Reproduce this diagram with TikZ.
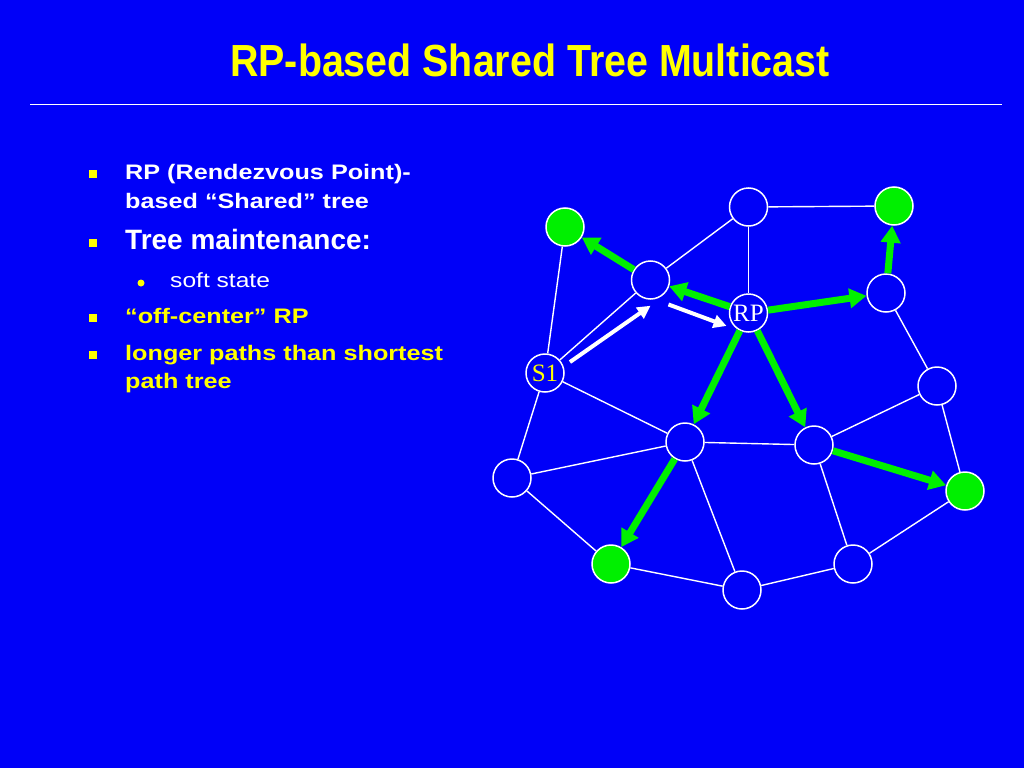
\documentclass[tikz,border=0pt]{standalone}
\usepackage{fontspec}
\setmainfont{Liberation Sans}
\newfontfamily\bodyfont{Liberation Sans}[FakeStretch=1.2]
\newfontfamily\titlefont{Liberation Sans}[FakeStretch=0.875]
\newfontfamily\labelfont{Liberation Serif}
\usetikzlibrary{arrows.meta}
\definecolor{bg}{RGB}{0,0,248}
\definecolor{yel}{RGB}{255,255,0}
\definecolor{grn}{RGB}{0,240,0}
\tikzset{
  net/.style={circle,draw=white,line width=1.5pt,minimum size=38pt,inner sep=0pt,fill=bg},
  recv/.style={net,fill=grn},
  link/.style={draw=white,line width=1.4pt},
  tree/.style={draw=grn,line width=7pt,-{Triangle[length=17pt,width=19pt]}},
  srcpath/.style={draw=white,line width=4pt,-{Triangle[length=13pt,width=13pt]}},
  sq/.style={fill=yel,minimum size=8.5pt,inner sep=0pt},
  txt/.style={anchor=base west,inner sep=0pt}
}
\begin{document}
\begin{tikzpicture}[x=1pt,y=-1pt]
\fill[bg] (0,0) rectangle (1024,768);
\useasboundingbox (0,0) rectangle (1024,768);
% title
\node[anchor=base,inner sep=0pt,text=yel] (title) at (530,77)
  {\titlefont\fontsize{45}{50}\selectfont\bfseries RP-based Shared Tree Multicast};
\coordinate (rl) at (30,104);
\coordinate (rr) at (1002,104);
\draw[white,line width=1pt] (rl) -- (rr);
% bullets
\node[sq] (b1) at (93,174) {};
\node[sq] (b2) at (93,243) {};
\node[sq] (b3) at (93,318) {};
\node[sq] (b4) at (93,355) {};
\node[circle,fill=yel,minimum size=7pt,inner sep=0pt] (b5) at (141,283) {};
\node[txt,text=white] (t1) at (125,179) {\bodyfont\fontsize{21}{25}\selectfont\bfseries RP (Rendezvous Point)-};
\node[txt,text=white] (t2) at (125,208) {\bodyfont\fontsize{21}{25}\selectfont\bfseries based “Shared” tree};
\node[txt,text=white] (t3) at (125,249) {\fontsize{28}{32}\selectfont\bfseries Tree maintenance:};
\node[txt,text=white] (t4) at (170,287) {\bodyfont\fontsize{20.5}{25}\selectfont soft state};
\node[txt,text=yel] (t5) at (125,323) {\bodyfont\fontsize{21}{25}\selectfont\bfseries “off-center” RP};
\node[txt,text=yel] (t6) at (125,360) {\bodyfont\fontsize{21}{25}\selectfont\bfseries longer paths than shortest};
\node[txt,text=yel] (t7) at (125,388) {\bodyfont\fontsize{21}{25}\selectfont\bfseries path tree};
% network nodes
\node[recv] (A) at (565,227) {};
\node[net] (B) at (748.5,207) {};
\node[recv] (C) at (894,206) {};
\node[net] (D) at (650.5,280) {};
\node[net,text=white,font=\labelfont\fontsize{25}{25}\selectfont] (RP) at (748.5,313) {RP};
\node[net] (E) at (886,293) {};
\node[net,text=yel,font=\labelfont\fontsize{25}{25}\selectfont] (S1) at (545,373) {S1};
\node[net] (F) at (937,386) {};
\node[net] (G) at (685,442) {};
\node[net] (H) at (814,445) {};
\node[net] (I) at (512,478) {};
\node[recv] (J) at (965,491) {};
\node[recv] (K) at (611,564) {};
\node[net] (L) at (742,590) {};
\node[net] (M) at (853,564) {};
% links
\draw[link] (A) -- (S1);
\draw[link] (D) -- (B);
\draw[link] (B) -- (C);
\draw[link] (B) -- (RP);
\draw[link] (S1) -- (D);
\draw[link] (S1) -- (I);
\draw[link] (S1) -- (G);
\draw[link] (E) -- (F);
\draw[link] (F) -- (H);
\draw[link] (F) -- (J);
\draw[link] (I) -- (G);
\draw[link] (G) -- (H);
\draw[link] (G) -- (L);
\draw[link] (H) -- (M);
\draw[link] (I) -- (K);
\draw[link] (K) -- (L);
\draw[link] (L) -- (M);
\draw[link] (M) -- (J);
% shared tree
\draw[tree] (D) -- (A);
\draw[tree] (RP) -- (D);
\draw[tree] (RP) -- (E);
\draw[tree] (E) -- (C);
\draw[tree] (RP) -- (G);
\draw[tree] (RP) -- (H);
\draw[tree] (H) -- (J);
\draw[tree] (G) -- (K);
% source path to RP
\draw[srcpath] ([shift={(11,3)}]S1.north east) -- ([shift={(0,6)}]D.south);
\draw[srcpath] ([shift={(4,10.5)}]D.south east) -- ([shift={(-8,-1)}]RP.south west);
\end{tikzpicture}
\end{document}
